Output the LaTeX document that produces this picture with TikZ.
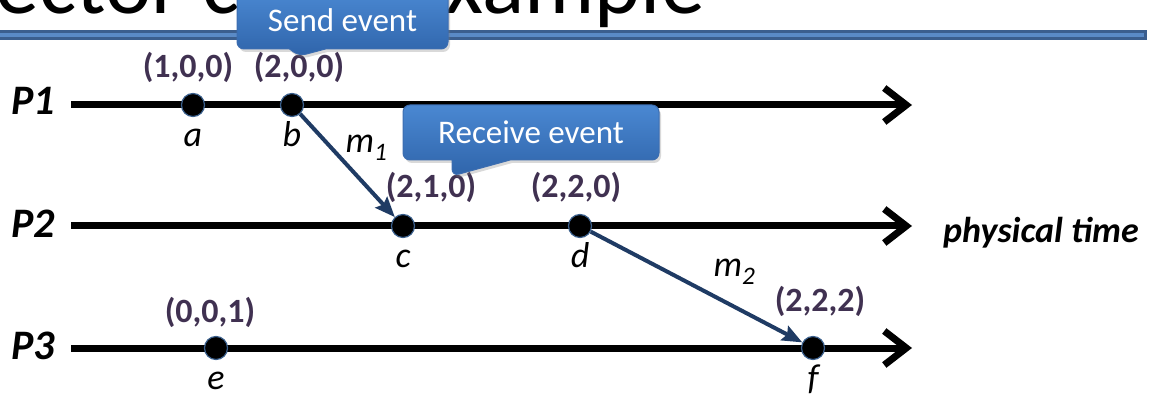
\documentclass[tikz,border=0pt]{standalone}
\usepackage{fontspec}
\setmainfont{Carlito}
\usepackage{tikz}
\usetikzlibrary{arrows.meta,positioning,calc,shapes.callouts,shadows}
\definecolor{vcBar}{HTML}{3B5E8E}
\definecolor{vcBarHi}{HTML}{5A8AC6}
\definecolor{vcTop}{HTML}{4A88D2}
\definecolor{vcBot}{HTML}{2F64AA}
\definecolor{vcEdge}{HTML}{3C6DB0}
\definecolor{vcStamp}{HTML}{403151}
\definecolor{vcMsg}{HTML}{1F3B64}
\definecolor{vcDot}{HTML}{3A5F8C}
\tikzset{
    headline/.style={font=\fontsize{88pt}{100pt}\selectfont, inner sep=0pt},
    proc/.style={font=\fontsize{42pt}{48pt}\selectfont\bfseries\itshape, inner sep=0pt},
    axisname/.style={font=\fontsize{36pt}{42pt}\selectfont\bfseries\itshape, inner sep=0pt},
    timeline/.style={line width=7pt, -{Straight Barb[length=22pt,width=34pt]}},
    event/.style={circle, fill=black, draw=vcDot, line width=1.2pt, minimum size=23pt, inner sep=0pt},
    evname/.style={font=\fontsize{36pt}{42pt}\selectfont\itshape, inner sep=0pt, text height=25pt, text depth=8pt},
    stamp/.style={font=\fontsize{34pt}{40pt}\selectfont\bfseries, text=vcStamp, inner sep=0pt, text height=24pt, text depth=7pt},
    msg/.style={line width=4pt, draw=vcMsg, -{Stealth[length=20pt,width=16pt,inset=3pt]}},
    msgname/.style={font=\fontsize{36pt}{42pt}\selectfont\itshape, inner sep=0pt},
    bubble/.style={rectangle callout, rounded corners=7pt, top color=vcTop, bottom color=vcBot, draw=vcEdge, line width=1pt, text=white, font=\fontsize{33pt}{40pt}\selectfont, drop shadow={shadow xshift=2pt, shadow yshift=-3pt, opacity=0.3}},
    titlebar/.style={line width=10pt, draw=vcBar},
    titlebarhi/.style={line width=3.5pt, draw=vcBarHi, shorten >=3pt}
}

\begin{document}
\begin{tikzpicture}[x=1pt, y=-1pt]
\useasboundingbox (0,0) rectangle (1154,403);
\clip (0,0) rectangle (1154,403);
% slide heading, cut off at the top
\node[headline, anchor=base west] (head) at (-50,14) {Vector clock example};
\coordinate (barL) at (-10,35);
\coordinate (barR) at (1147,35);
\draw[titlebar] (barL) -- (barR);
\draw[titlebarhi] (barL) -- (barR);
% processes and their time lines
\node[proc] (P1) at (33,101) {P1};
\node[proc] (P2) at (33,224) {P2};
\node[proc] (P3) at (33,346) {P3};
\coordinate (s1) at (71,105); \coordinate (t1) at (912,105);
\coordinate (s2) at (71,226); \coordinate (t2) at (912,226);
\coordinate (s3) at (71,348); \coordinate (t3) at (912,348);
\draw[timeline] (s1) -- (t1);
\draw[timeline] (s2) -- (t2);
\draw[timeline] (s3) -- (t3);
\node[axisname, right=31pt of t2, yshift=-7pt] (ptime) {physical time};
% events
\node[event] (a) at (193,105) {};
\node[event] (b) at (292,105) {};
\node[event] (c) at (403,226) {};
\node[event] (d) at (580,226) {};
\node[event] (e) at (216,348) {};
\node[event] (f) at (813,348) {};
\foreach \ev in {a,b,c,d,e,f}
    \node[evname, below=4.5pt of \ev] (\ev-name) {\ev};
% vector timestamps
\node[stamp, above=8.5pt of a, xshift=-5pt] (va) {(1,0,0)};
\node[stamp, above=8.5pt of b, xshift=7pt] (vb) {(2,0,0)};
\node[stamp, above=9.5pt of c, xshift=28pt] (vc) {(2,1,0)};
\node[stamp, above=9.5pt of d, xshift=-4pt] (vd) {(2,2,0)};
\node[stamp, above=6.5pt of e, xshift=-6pt] (ve) {(0,0,1)};
\node[stamp, above=17pt of f, xshift=7pt] (vf) {(2,2,2)};
% messages
\draw[msg] (b) -- node[msgname, xshift=19pt, yshift=17.5pt] (m1) {m\textsubscript{1}} (c);
\draw[msg] (d) -- node[msgname, xshift=38pt, yshift=15pt] (m2) {m\textsubscript{2}} (f);
% callouts
\node[bubble, minimum width=211pt, minimum height=58pt, callout pointer width=36pt, callout absolute pointer={([yshift=-3pt]vb.north)}] (send) at (342.5,20) {Send event};
\node[bubble, minimum width=256pt, minimum height=55pt, callout pointer width=58pt, callout absolute pointer={([xshift=21pt,yshift=-3pt]vc.north)}] (recv) at (531,132.5) {Receive event};
\end{tikzpicture}
\end{document}
